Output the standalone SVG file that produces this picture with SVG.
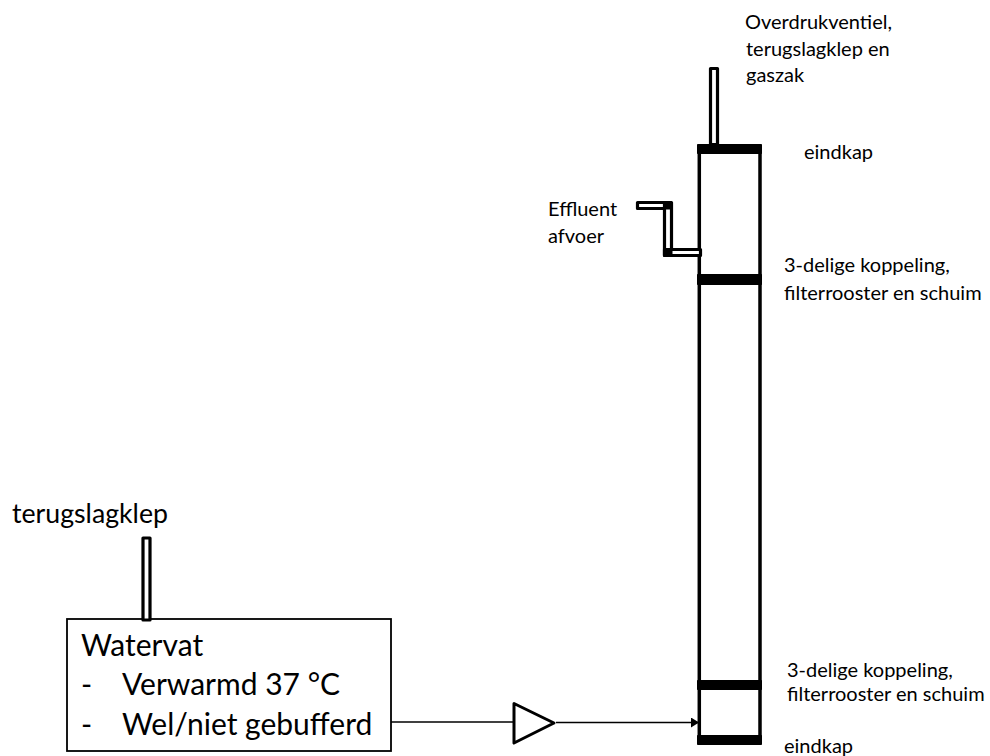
<svg xmlns="http://www.w3.org/2000/svg" width="990" height="756" viewBox="0 0 990 756">
<style>
text{font-family:"Lato","Liberation Sans",sans-serif;fill:#000}
.s{font-size:20px}
.l{font-size:30px}
.m{font-size:26.700px}
.t{fill:#fff;stroke:#000;stroke-width:3.200;stroke-linejoin:round}
.c{fill:#000;stroke:#000;stroke-width:1;stroke-linejoin:round}
.w{fill:none;stroke:#000;stroke-width:3.500}
</style>
<defs><marker id="a" viewBox="0 0 8 10" refX="8" refY="5" markerWidth="8" markerHeight="10" markerUnits="userSpaceOnUse" orient="auto"><path d="M0 0L8 5L0 10Z" fill="#000"/></marker></defs>
<rect width="990" height="756" fill="#fff"/>
<g id="connectors">
<path d="M391 722H514" fill="none" stroke="#000" stroke-width="1.500"/>
<path d="M556 722.500H699" fill="none" stroke="#000" stroke-width="1.500" marker-end="url(#a)"/>
</g>
<g id="column">
<path class="w" d="M699.300 150V740M760 150V740"/>
<rect class="c" x="697.500" y="144.500" width="64" height="9"/>
<rect class="c" x="697.500" y="274.500" width="64" height="10"/>
<rect class="c" x="697.500" y="680.500" width="64" height="9"/>
<rect class="c" x="697.500" y="735.500" width="64" height="9"/>
</g>
<g id="top-tube"><rect class="t" x="710.500" y="68.500" width="7" height="76"/></g>
<g id="effluent">
<rect class="t" x="637.500" y="202.500" width="33" height="6"/>
<rect class="t" x="664.500" y="202.500" width="7" height="53"/>
<rect class="t" x="664.500" y="249.500" width="36" height="6"/>
<rect class="c" x="664" y="202" width="8" height="7"/>
<rect class="c" x="664" y="249" width="8" height="7"/>
</g>
<g id="pump"><path d="M514 703.500L554 723L514 743Z" fill="#fff" stroke="#000" stroke-width="3" stroke-linejoin="round"/></g>
<g id="watervat">
<rect x="67" y="619" width="324" height="132" fill="#fff" stroke="#000" stroke-width="1.800"/>
<text class="l" x="81" y="656">Watervat</text>
<text class="l" x="81" y="695">-</text><text class="l" x="122" y="695">Verwarmd 37 °C</text>
<text class="l" x="81" y="735">-</text><text class="l" x="122" y="735">Wel/niet gebufferd</text>
</g>
<g id="back-valve"><rect class="t" x="143" y="538" width="7" height="82"/></g>
<g id="labels">
<text class="m" x="12" y="523">terugslagklep</text>
<text class="s" x="745" y="29">Overdrukventiel,</text>
<text class="s" x="746" y="56">terugslagklep en</text>
<text class="s" x="746" y="82">gaszak</text>
<text class="s" x="804" y="159">eindkap</text>
<text class="s" x="548" y="216">Effluent</text>
<text class="s" x="548" y="243">afvoer</text>
<text class="s" x="784" y="272">3-delige koppeling,</text>
<text class="s" x="784" y="300">filterrooster en schuim</text>
<text class="s" x="787" y="677">3-delige koppeling,</text>
<text class="s" x="787" y="701">filterrooster en schuim</text>
<text class="s" x="784" y="753">eindkap</text>
</g>
</svg>
